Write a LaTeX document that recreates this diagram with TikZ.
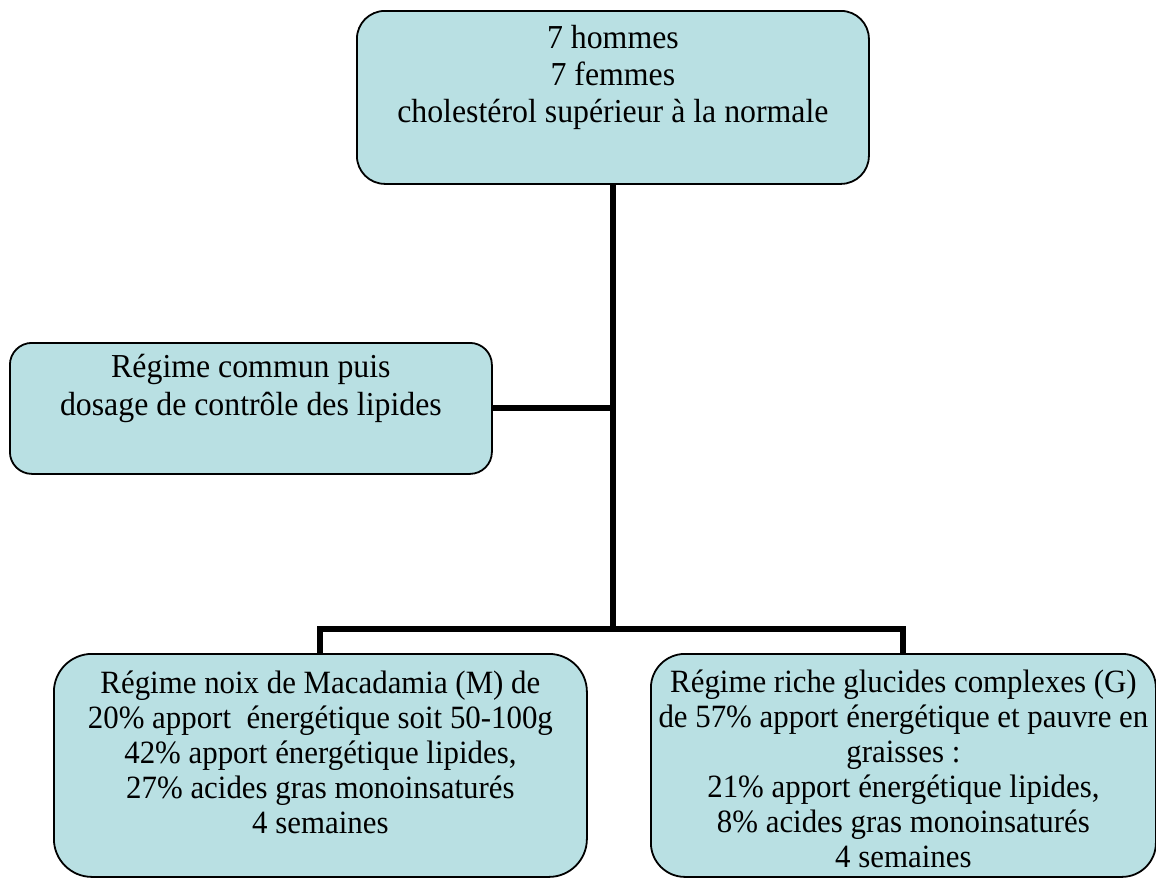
\documentclass[tikz,border=0pt]{standalone}
\usepackage{fontspec}
\setmainfont{Liberation Serif}[FakeStretch=0.95]
\usepackage{xcolor}
\usetikzlibrary{calc}
\definecolor{paleTeal}{HTML}{B9E0E3}

\begin{document}
\begin{tikzpicture}[x=1pt,y=-1pt]
  \tikzset{card/.style={draw=black,line width=1.8pt,fill=paleTeal,anchor=north west,align=flush center,inner xsep=-10pt,inner ysep=0pt}, link/.style={draw=black,line width=6pt}}
  \useasboundingbox (0,0) rectangle (1156,878);
  \node[card,rounded corners=28pt,text width=532pt,text height=38pt,text depth=135pt,font=\fontsize{33.5}{37}\selectfont] (groupe) at (356,10) {7 hommes\\7 femmes\\cholestérol supérieur à la normale};
  \node[card,rounded corners=22pt,text width=502pt,text height=35pt,text depth=96pt,font=\fontsize{33.5}{38}\selectfont] (commun) at (9,342) {Régime commun puis\\dosage de contrôle des lipides};
  \node[card,rounded corners=38pt,text width=553pt,text height=40pt,text depth=183pt,font=\fontsize{32.5}{35}\selectfont] (macadamia) at (53,653) {Régime noix de Macadamia (M) de\\20\% apport~ énergétique soit 50-100g\\42\% apport énergétique lipides,\\27\% acides gras monoinsaturés\\4 semaines};
  \node[card,rounded corners=34pt,text width=525pt,text height=39pt,text depth=184pt,font=\fontsize{32.5}{35}\selectfont] (glucides) at (650,653) {Régime riche glucides complexes (G)\\de 57\% apport énergétique et pauvre en\\graisses :\\21\% apport énergétique lipides,\\8\% acides gras monoinsaturés\\4 semaines};
  \coordinate (fourche) at (groupe.south |- 0,629);
  \draw[link] (groupe.south) -- (fourche);
  \draw[link] (commun.east) -- (commun.east -| groupe.south);
  \draw[link] (macadamia.north) |- (fourche) -| (glucides.north);
\end{tikzpicture}
\end{document}
